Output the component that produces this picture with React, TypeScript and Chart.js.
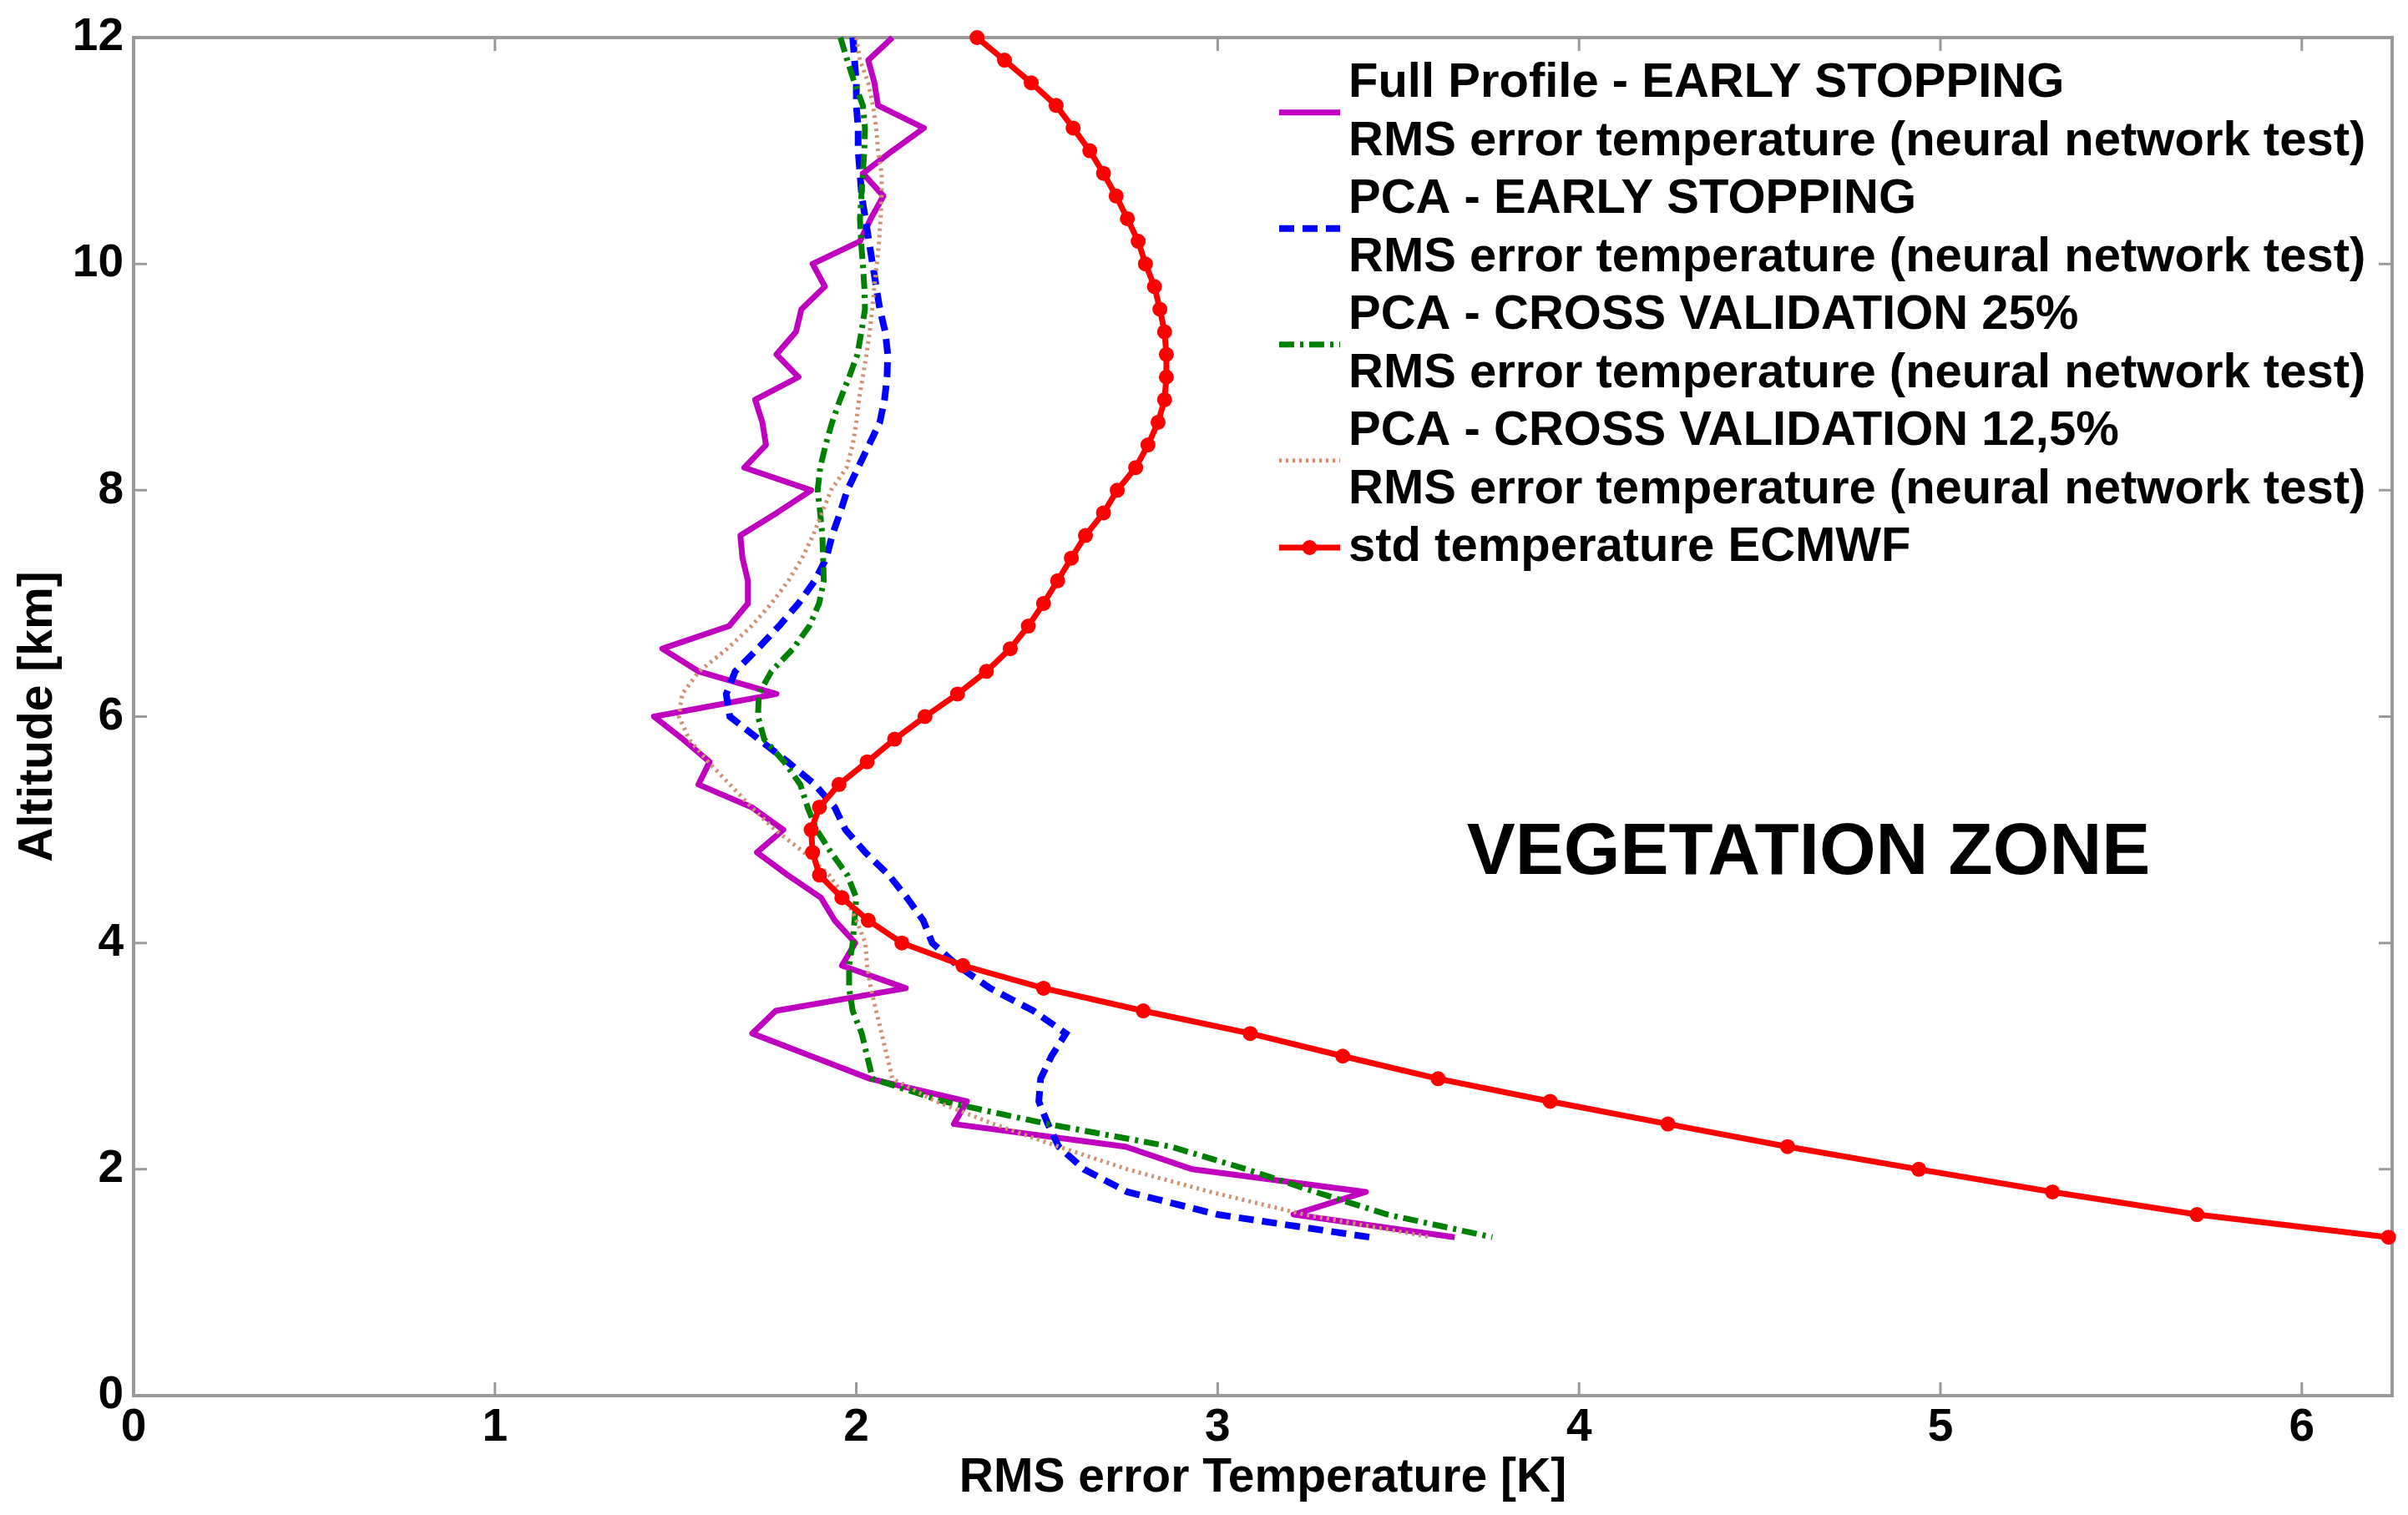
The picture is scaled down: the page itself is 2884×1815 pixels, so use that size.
import { useEffect, useRef } from "react";
import { Chart, registerables } from "chart.js";

Chart.register(...registerables);

// altitude levels (km), top to bottom
const ALTITUDE_KM = [
  12.0, 11.8, 11.6, 11.4, 11.2, 11.0, 10.8, 10.6, 10.4, 10.2,
  10.0, 9.8, 9.6, 9.4, 9.2, 9.0, 8.8, 8.6, 8.4, 8.2,
  8.0, 7.8, 7.6, 7.4, 7.2, 7.0, 6.8, 6.6, 6.4, 6.2,
  6.0, 5.8, 5.6, 5.4, 5.2, 5.0, 4.8, 4.6, 4.4, 4.2,
  4.0, 3.8, 3.6, 3.4, 3.2, 3.0, 2.8, 2.6, 2.4, 2.2,
  2.0, 1.8, 1.6, 1.4,
];

// RMS error temperature [K] per altitude level
const FULL_PROFILE_ES = [
  2.10, 2.033, 2.05, 2.06, 2.187, 2.10, 2.018, 2.075, 2.04, 2.01,
  1.879, 1.913, 1.848, 1.833, 1.779, 1.84, 1.72, 1.74, 1.75, 1.69,
  1.875, 1.78, 1.679, 1.685, 1.70, 1.70, 1.648, 1.463, 1.563, 1.779,
  1.44, 1.52, 1.594, 1.563, 1.71, 1.798, 1.725, 1.81, 1.902, 1.94,
  1.997, 1.96, 2.137, 1.777, 1.712, 1.875, 2.038, 2.306, 2.27, 2.745,
  2.93, 3.41, 3.21, 3.656,
];

const PCA_ES = [
  1.99, 1.995, 2.0, 2.0, 2.005, 2.005, 2.01, 2.015, 2.025, 2.035,
  2.045, 2.055, 2.065, 2.08, 2.087, 2.085, 2.078, 2.065, 2.035, 2.005,
  1.975, 1.955, 1.933, 1.917, 1.885, 1.84, 1.786, 1.727, 1.665, 1.64,
  1.65, 1.73, 1.81, 1.885, 1.94, 1.97, 2.025, 2.09, 2.14, 2.185,
  2.21, 2.28, 2.37, 2.49, 2.58, 2.54, 2.51, 2.505, 2.53, 2.56,
  2.63, 2.75, 3.0, 3.42,
];

const PCA_CV25 = [
  1.956, 1.975, 1.995, 2.018, 2.024, 2.022, 2.018, 2.014, 2.01, 2.013,
  2.018, 2.022, 2.024, 2.014, 2.003, 1.98, 1.955, 1.933, 1.915, 1.9,
  1.893, 1.9, 1.906, 1.908, 1.91, 1.897, 1.87, 1.825, 1.765, 1.73,
  1.728, 1.745, 1.80, 1.845, 1.865, 1.89, 1.93, 1.975, 2.0, 1.995,
  1.99, 1.98, 1.98, 1.99, 2.015, 2.03, 2.045, 2.24, 2.53, 2.87,
  3.08, 3.27, 3.47, 3.76,
];

const PCA_CV125 = [
  2.0, 2.01, 2.033, 2.046, 2.055, 2.06, 2.07, 2.07, 2.067, 2.063,
  2.057, 2.05, 2.044, 2.037, 2.028, 2.018, 2.007, 2.0, 1.99, 1.973,
  1.93, 1.905, 1.88, 1.85, 1.812, 1.765, 1.71, 1.643, 1.565, 1.518,
  1.509, 1.537, 1.59, 1.65, 1.71, 1.775, 1.855, 1.925, 1.97, 2.0,
  2.025, 2.03, 2.04, 2.055, 2.07, 2.085, 2.1, 2.22, 2.38, 2.56,
  2.75, 2.98, 3.24, 3.59,
];

const STD_ECMWF = [
  2.334, 2.41, 2.484, 2.553, 2.60, 2.646, 2.684, 2.719, 2.75, 2.78,
  2.80, 2.825, 2.84, 2.853, 2.858, 2.858, 2.853, 2.835, 2.807, 2.773,
  2.722, 2.684, 2.634, 2.595, 2.557, 2.518, 2.476, 2.426, 2.36, 2.28,
  2.19, 2.106, 2.03, 1.952, 1.898, 1.875, 1.879, 1.898, 1.96, 2.033,
  2.126, 2.295, 2.518, 2.794, 3.09, 3.346, 3.61, 3.92, 4.246, 4.577,
  4.94, 5.31, 5.71, 6.24,
];

const X_TICKS = [0, 1, 2, 3, 4, 5, 6];
const Y_TICKS = [0, 2, 4, 6, 8, 10, 12];

const LEGEND_LINES = [
  ["Full Profile - EARLY STOPPING", "RMS error temperature (neural network test)"],
  ["PCA - EARLY STOPPING", "RMS error temperature (neural network test)"],
  ["PCA - CROSS VALIDATION 25%", "RMS error temperature (neural network test)"],
  ["PCA - CROSS VALIDATION 12,5%", "RMS error temperature (neural network test)"],
  ["std temperature ECMWF"],
];

const ZONE_LABEL = "VEGETATION ZONE";
const ZONE_AT = { x: 4.635, y: 4.79 };

const FONT = "'Liberation Sans', Arial, Helvetica, sans-serif";
const FRAME_COLOR = "#9a9a9a";
const TICK_LEN = 16;

const toPoints = (vals: number[]) => vals.map((v, i) => ({ x: v, y: ALTITUDE_KM[i] }));

const decorPlugin = {
  id: "matlabDecor",
  beforeDatasetsDraw(chart: any) {
    const { ctx, chartArea: a, scales } = chart;
    ctx.save();
    ctx.strokeStyle = FRAME_COLOR;
    ctx.lineWidth = 4;
    ctx.strokeRect(a.left, a.top, a.right - a.left, a.bottom - a.top);
    ctx.lineWidth = 3;
    ctx.beginPath();
    X_TICKS.forEach((v) => {
      const px = scales.x.getPixelForValue(v);
      ctx.moveTo(px, a.bottom);
      ctx.lineTo(px, a.bottom - TICK_LEN);
      ctx.moveTo(px, a.top);
      ctx.lineTo(px, a.top + TICK_LEN);
    });
    Y_TICKS.forEach((v) => {
      const py = scales.y.getPixelForValue(v);
      ctx.moveTo(a.left, py);
      ctx.lineTo(a.left + TICK_LEN, py);
      ctx.moveTo(a.right, py);
      ctx.lineTo(a.right - TICK_LEN, py);
    });
    ctx.stroke();
    ctx.restore();
  },
  afterDatasetsDraw(chart: any) {
    const { ctx, scales } = chart;
    ctx.save();

    // zone annotation
    ctx.fillStyle = "#000";
    ctx.font = `bold 87px ${FONT}`;
    ctx.textAlign = "center";
    ctx.textBaseline = "middle";
    ctx.fillText(ZONE_LABEL, scales.x.getPixelForValue(ZONE_AT.x), scales.y.getPixelForValue(ZONE_AT.y));

    // legend, matlab style (two-line entries, no box)
    const textX = 1615;
    const sx0 = 1532;
    const sx1 = 1605;
    const rowY0 = 100;
    const rowH = 69.5;
    let row = 0;
    chart.data.datasets.forEach((ds: any, i: number) => {
      const lines = LEGEND_LINES[i];
      const first = rowY0 + row * rowH;
      const last = rowY0 + (row + lines.length - 1) * rowH;
      const sy = (first + last) / 2;
      ctx.save();
      ctx.strokeStyle = ds.borderColor;
      ctx.lineWidth = ds.borderWidth;
      ctx.setLineDash(ds.borderDash || []);
      ctx.beginPath();
      ctx.moveTo(sx0, sy);
      ctx.lineTo(sx1, sy);
      ctx.stroke();
      if (ds.pointRadius > 0) {
        ctx.fillStyle = ds.pointBackgroundColor;
        ctx.beginPath();
        ctx.arc((sx0 + sx1) / 2, sy, ds.pointRadius, 0, Math.PI * 2);
        ctx.fill();
      }
      ctx.restore();
      ctx.fillStyle = "#000";
      ctx.font = `bold 58px ${FONT}`;
      ctx.textAlign = "left";
      ctx.textBaseline = "middle";
      lines.forEach((t, k) => ctx.fillText(t, textX, rowY0 + (row + k) * rowH));
      row += lines.length;
    });
    ctx.restore();
  },
};

export default function App() {
  const canvasRef = useRef<HTMLCanvasElement | null>(null);
  const chartRef = useRef<Chart | null>(null);

  useEffect(() => {
    if (!canvasRef.current) return;
    if (chartRef.current) chartRef.current.destroy();

    const lineBase = { tension: 0, pointRadius: 0, pointHoverRadius: 0, fill: false, clip: false as const };

    chartRef.current = new Chart(canvasRef.current, {
      type: "line",
      data: {
        datasets: [
          {
            ...lineBase,
            label: LEGEND_LINES[0].join(" "),
            data: toPoints(FULL_PROFILE_ES),
            borderColor: "#bf00bf",
            borderWidth: 7,
            borderJoinStyle: "round",
            order: 5,
          },
          {
            ...lineBase,
            label: LEGEND_LINES[1].join(" "),
            data: toPoints(PCA_ES),
            borderColor: "#0000ff",
            borderWidth: 8,
            borderDash: [18, 10],
            order: 4,
          },
          {
            ...lineBase,
            label: LEGEND_LINES[2].join(" "),
            data: toPoints(PCA_CV25),
            borderColor: "#008000",
            borderWidth: 7,
            borderDash: [18, 7, 4, 7],
            order: 3,
          },
          {
            ...lineBase,
            label: LEGEND_LINES[3].join(" "),
            data: toPoints(PCA_CV125),
            borderColor: "rgb(205,145,115)",
            borderWidth: 5,
            borderDash: [3, 5],
            order: 2,
          },
          {
            ...lineBase,
            label: LEGEND_LINES[4].join(" "),
            data: toPoints(STD_ECMWF),
            borderColor: "#ff0000",
            borderWidth: 7,
            pointRadius: 9,
            pointHoverRadius: 9,
            pointBackgroundColor: "#ff0000",
            pointBorderWidth: 0,
            order: 1,
          },
        ],
      },
      options: {
        animation: false,
        responsive: false,
        devicePixelRatio: 1,
        layout: { padding: { top: 42, right: 19, left: 0, bottom: 0 } },
        plugins: {
          legend: { display: false },
          tooltip: { enabled: false },
        },
        scales: {
          x: {
            type: "linear",
            min: 0,
            max: 6.25,
            afterBuildTicks: (s: any) => {
              s.ticks = X_TICKS.map((v) => ({ value: v }));
            },
            afterFit: (s: any) => {
              s.height = 143;
            },
            grid: { display: false, drawTicks: false },
            border: { display: false },
            ticks: {
              autoSkip: false,
              maxRotation: 0,
              padding: 6,
              color: "#000",
              font: { family: FONT, size: 55, weight: "bold" },
            },
            title: {
              display: true,
              text: "RMS error Temperature [K]",
              color: "#000",
              padding: { top: 0, bottom: 10 },
              font: { family: FONT, size: 57, weight: "bold" },
            },
          },
          y: {
            type: "linear",
            min: 0,
            max: 12,
            afterBuildTicks: (s: any) => {
              s.ticks = Y_TICKS.map((v) => ({ value: v }));
            },
            afterFit: (s: any) => {
              s.width = 160;
            },
            grid: { display: false, drawTicks: false },
            border: { display: false },
            ticks: {
              autoSkip: false,
              padding: 12,
              color: "#000",
              font: { family: FONT, size: 55, weight: "bold" },
            },
            title: {
              display: true,
              text: "Altitude [km]",
              color: "#000",
              padding: { top: 12, bottom: 0 },
              font: { family: FONT, size: 57, weight: "bold" },
            },
          },
        },
      },
      plugins: [decorPlugin],
    });

    return () => {
      if (chartRef.current) {
        chartRef.current.destroy();
        chartRef.current = null;
      }
    };
  }, []);

  return (
    <div style={{ position: "absolute", left: 0, top: 0, width: 2884, height: 1815, background: "#fff" }}>
      <canvas ref={canvasRef} width={2884} height={1815} style={{ display: "block", width: 2884, height: 1815 }} />
    </div>
  );
}
